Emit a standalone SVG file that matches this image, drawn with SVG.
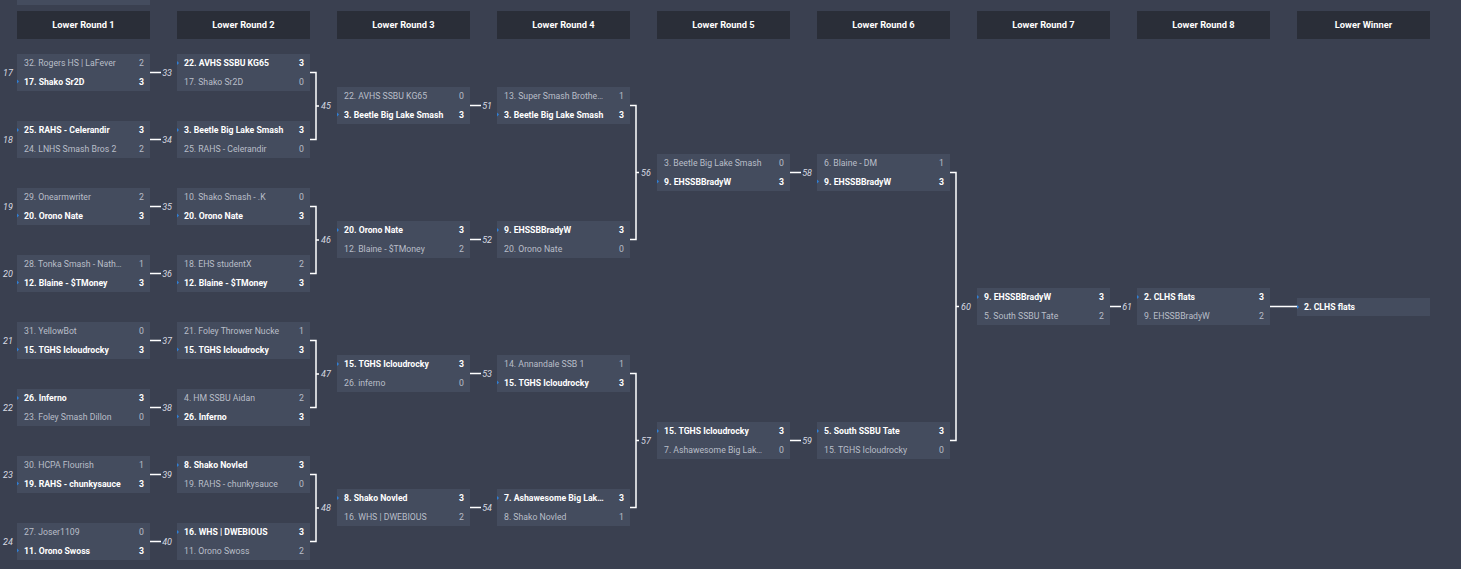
<svg xmlns="http://www.w3.org/2000/svg" width="1461" height="569" viewBox="0 0 1461 569">
<style>
.bg{fill:#3a4050}
.hdr{fill:#2a2e38}
.box{fill:#444c5e}
.ht{font-family:Roboto,"Liberation Sans",sans-serif;font-size:9.3px;font-weight:700;fill:#ffffff;text-anchor:middle}
.n{font-family:Roboto,"Liberation Sans",sans-serif;font-size:8.7px;fill:#b9bec8}
.w{font-family:Roboto,"Liberation Sans",sans-serif;font-size:8.7px;font-weight:700;fill:#ffffff}
.s{text-anchor:middle}
.lbl{font-family:Roboto,"Liberation Sans",sans-serif;font-size:9px;font-style:italic;fill:#d8dbe2}
.le{text-anchor:end}
.lm{text-anchor:middle}
.mk{fill:#2f7fd6}
.cn{fill:none;stroke:#ffffff;stroke-width:1.5}
</style>
<rect class="bg" x="0" y="0" width="1461" height="569"/>
<rect class="box" x="17" y="-10" width="133" height="15"/>
<g id="headers">
<rect class="hdr" x="17" y="11" width="133" height="28"/><text class="ht" x="83.5" y="28.3">Lower Round 1</text>
<rect class="hdr" x="177" y="11" width="133" height="28"/><text class="ht" x="243.5" y="28.3">Lower Round 2</text>
<rect class="hdr" x="337" y="11" width="133" height="28"/><text class="ht" x="403.5" y="28.3">Lower Round 3</text>
<rect class="hdr" x="497" y="11" width="133" height="28"/><text class="ht" x="563.5" y="28.3">Lower Round 4</text>
<rect class="hdr" x="657" y="11" width="133" height="28"/><text class="ht" x="723.5" y="28.3">Lower Round 5</text>
<rect class="hdr" x="817" y="11" width="133" height="28"/><text class="ht" x="883.5" y="28.3">Lower Round 6</text>
<rect class="hdr" x="977" y="11" width="133" height="28"/><text class="ht" x="1043.5" y="28.3">Lower Round 7</text>
<rect class="hdr" x="1137" y="11" width="133" height="28"/><text class="ht" x="1203.5" y="28.3">Lower Round 8</text>
<rect class="hdr" x="1297" y="11" width="133" height="28"/><text class="ht" x="1363.5" y="28.3">Lower Winner</text>
</g>
<g id="connectors">
<path class="cn" d="M150 72.5H161M150 139.5H161M150 206.5H161M150 273.5H161M150 340.5H161M150 407.5H161M150 474.5H161M150 541.5H161"/>
<path class="cn" d="M310 72.5H316V139.5H310M316 106H319M310 206.5H316V273.5H310M316 240H319M310 340.5H316V407.5H310M316 374H319M310 474.5H316V541.5H310M316 508H319"/>
<path class="cn" d="M470 105.5H481M470 239.5H481M470 373.5H481M470 507.5H481"/>
<path class="cn" d="M630 105.5H636V239.5H630M636 172.5H639M630 373.5H636V507.5H630M636 440.5H639"/>
<path class="cn" d="M790 172.5H801M790 440.5H801"/>
<path class="cn" d="M950 172.5H956V440.5H950M956 306.5H959"/>
<path class="cn" d="M1110 306.5H1121M1270 306.5H1297"/>
<text class="lbl le" x="172" y="75.5">33</text>
<text class="lbl le" x="172" y="142.5">34</text>
<text class="lbl le" x="172" y="209.5">35</text>
<text class="lbl le" x="172" y="276.5">36</text>
<text class="lbl le" x="172" y="343.5">37</text>
<text class="lbl le" x="172" y="410.5">38</text>
<text class="lbl le" x="172" y="477.5">39</text>
<text class="lbl le" x="172" y="544.5">40</text>
<text class="lbl" x="321" y="109">45</text>
<text class="lbl" x="321" y="243">46</text>
<text class="lbl" x="321" y="377">47</text>
<text class="lbl" x="321" y="511">48</text>
<text class="lbl le" x="492" y="108.5">51</text>
<text class="lbl le" x="492" y="242.5">52</text>
<text class="lbl le" x="492" y="376.5">53</text>
<text class="lbl le" x="492" y="510.5">54</text>
<text class="lbl" x="641" y="175.5">56</text>
<text class="lbl" x="641" y="443.5">57</text>
<text class="lbl le" x="812" y="175.5">58</text>
<text class="lbl le" x="812" y="443.5">59</text>
<text class="lbl" x="961" y="309.5">60</text>
<text class="lbl le" x="1132" y="309.5">61</text>
<text class="lbl lm" x="8" y="75.5">17</text>
<text class="lbl lm" x="8" y="142.5">18</text>
<text class="lbl lm" x="8" y="209.5">19</text>
<text class="lbl lm" x="8" y="276.5">20</text>
<text class="lbl lm" x="8" y="343.5">21</text>
<text class="lbl lm" x="8" y="410.5">22</text>
<text class="lbl lm" x="8" y="477.5">23</text>
<text class="lbl lm" x="8" y="544.5">24</text>
</g>
<!-- Round 1 -->
<g id="m17" transform="translate(17,54)"><rect class="box" width="133" height="37"/><text class="n" x="7" y="12.3">32. Rogers HS | LaFever</text><text class="n s" x="124.5" y="12.3">2</text><path class="mk" d="M0 25.5L2 27.5L0 29.5Z"/><text class="w" x="7" y="30.8">17. Shako Sr2D</text><text class="w s" x="124.5" y="30.8">3</text></g>
<g id="m18" transform="translate(17,121)"><rect class="box" width="133" height="37"/><path class="mk" d="M0 7L2 9L0 11Z"/><text class="w" x="7" y="12.3">25. RAHS - Celerandir</text><text class="w s" x="124.5" y="12.3">3</text><text class="n" x="7" y="30.8">24. LNHS Smash Bros 2</text><text class="n s" x="124.5" y="30.8">2</text></g>
<g id="m19" transform="translate(17,188)"><rect class="box" width="133" height="37"/><text class="n" x="7" y="12.3">29. Onearmwriter</text><text class="n s" x="124.5" y="12.3">2</text><path class="mk" d="M0 25.5L2 27.5L0 29.5Z"/><text class="w" x="7" y="30.8">20. Orono Nate</text><text class="w s" x="124.5" y="30.8">3</text></g>
<g id="m20" transform="translate(17,255)"><rect class="box" width="133" height="37"/><text class="n" x="7" y="12.3">28. Tonka Smash - Nath…</text><text class="n s" x="124.5" y="12.3">1</text><path class="mk" d="M0 25.5L2 27.5L0 29.5Z"/><text class="w" x="7" y="30.8">12. Blaine - $TMoney</text><text class="w s" x="124.5" y="30.8">3</text></g>
<g id="m21" transform="translate(17,322)"><rect class="box" width="133" height="37"/><text class="n" x="7" y="12.3">31. YellowBot</text><text class="n s" x="124.5" y="12.3">0</text><path class="mk" d="M0 25.5L2 27.5L0 29.5Z"/><text class="w" x="7" y="30.8">15. TGHS Icloudrocky</text><text class="w s" x="124.5" y="30.8">3</text></g>
<g id="m22" transform="translate(17,389)"><rect class="box" width="133" height="37"/><path class="mk" d="M0 7L2 9L0 11Z"/><text class="w" x="7" y="12.3">26. Inferno</text><text class="w s" x="124.5" y="12.3">3</text><text class="n" x="7" y="30.8">23. Foley Smash Dillon</text><text class="n s" x="124.5" y="30.8">0</text></g>
<g id="m23" transform="translate(17,456)"><rect class="box" width="133" height="37"/><text class="n" x="7" y="12.3">30. HCPA Flourish</text><text class="n s" x="124.5" y="12.3">1</text><path class="mk" d="M0 25.5L2 27.5L0 29.5Z"/><text class="w" x="7" y="30.8">19. RAHS - chunkysauce</text><text class="w s" x="124.5" y="30.8">3</text></g>
<g id="m24" transform="translate(17,523)"><rect class="box" width="133" height="37"/><text class="n" x="7" y="12.3">27. Joser1109</text><text class="n s" x="124.5" y="12.3">0</text><path class="mk" d="M0 25.5L2 27.5L0 29.5Z"/><text class="w" x="7" y="30.8">11. Orono Swoss</text><text class="w s" x="124.5" y="30.8">3</text></g>
<!-- Round 2 -->
<g id="m33" transform="translate(177,54)"><rect class="box" width="133" height="37"/><path class="mk" d="M0 7L2 9L0 11Z"/><text class="w" x="7" y="12.3">22. AVHS SSBU KG65</text><text class="w s" x="124.5" y="12.3">3</text><text class="n" x="7" y="30.8">17. Shako Sr2D</text><text class="n s" x="124.5" y="30.8">0</text></g>
<g id="m34" transform="translate(177,121)"><rect class="box" width="133" height="37"/><path class="mk" d="M0 7L2 9L0 11Z"/><text class="w" x="7" y="12.3">3. Beetle Big Lake Smash</text><text class="w s" x="124.5" y="12.3">3</text><text class="n" x="7" y="30.8">25. RAHS - Celerandir</text><text class="n s" x="124.5" y="30.8">0</text></g>
<g id="m35" transform="translate(177,188)"><rect class="box" width="133" height="37"/><text class="n" x="7" y="12.3">10. Shako Smash - .K</text><text class="n s" x="124.5" y="12.3">0</text><path class="mk" d="M0 25.5L2 27.5L0 29.5Z"/><text class="w" x="7" y="30.8">20. Orono Nate</text><text class="w s" x="124.5" y="30.8">3</text></g>
<g id="m36" transform="translate(177,255)"><rect class="box" width="133" height="37"/><text class="n" x="7" y="12.3">18. EHS studentX</text><text class="n s" x="124.5" y="12.3">2</text><path class="mk" d="M0 25.5L2 27.5L0 29.5Z"/><text class="w" x="7" y="30.8">12. Blaine - $TMoney</text><text class="w s" x="124.5" y="30.8">3</text></g>
<g id="m37" transform="translate(177,322)"><rect class="box" width="133" height="37"/><text class="n" x="7" y="12.3">21. Foley Thrower Nucke</text><text class="n s" x="124.5" y="12.3">1</text><path class="mk" d="M0 25.5L2 27.5L0 29.5Z"/><text class="w" x="7" y="30.8">15. TGHS Icloudrocky</text><text class="w s" x="124.5" y="30.8">3</text></g>
<g id="m38" transform="translate(177,389)"><rect class="box" width="133" height="37"/><text class="n" x="7" y="12.3">4. HM SSBU Aidan</text><text class="n s" x="124.5" y="12.3">2</text><path class="mk" d="M0 25.5L2 27.5L0 29.5Z"/><text class="w" x="7" y="30.8">26. Inferno</text><text class="w s" x="124.5" y="30.8">3</text></g>
<g id="m39" transform="translate(177,456)"><rect class="box" width="133" height="37"/><path class="mk" d="M0 7L2 9L0 11Z"/><text class="w" x="7" y="12.3">8. Shako Novled</text><text class="w s" x="124.5" y="12.3">3</text><text class="n" x="7" y="30.8">19. RAHS - chunkysauce</text><text class="n s" x="124.5" y="30.8">0</text></g>
<g id="m40" transform="translate(177,523)"><rect class="box" width="133" height="37"/><path class="mk" d="M0 7L2 9L0 11Z"/><text class="w" x="7" y="12.3">16. WHS | DWEBIOUS</text><text class="w s" x="124.5" y="12.3">3</text><text class="n" x="7" y="30.8">11. Orono Swoss</text><text class="n s" x="124.5" y="30.8">2</text></g>
<!-- Round 3 -->
<g id="m45" transform="translate(337,87)"><rect class="box" width="133" height="37"/><text class="n" x="7" y="12.3">22. AVHS SSBU KG65</text><text class="n s" x="124.5" y="12.3">0</text><path class="mk" d="M0 25.5L2 27.5L0 29.5Z"/><text class="w" x="7" y="30.8">3. Beetle Big Lake Smash</text><text class="w s" x="124.5" y="30.8">3</text></g>
<g id="m46" transform="translate(337,221)"><rect class="box" width="133" height="37"/><path class="mk" d="M0 7L2 9L0 11Z"/><text class="w" x="7" y="12.3">20. Orono Nate</text><text class="w s" x="124.5" y="12.3">3</text><text class="n" x="7" y="30.8">12. Blaine - $TMoney</text><text class="n s" x="124.5" y="30.8">2</text></g>
<g id="m47" transform="translate(337,355)"><rect class="box" width="133" height="37"/><path class="mk" d="M0 7L2 9L0 11Z"/><text class="w" x="7" y="12.3">15. TGHS Icloudrocky</text><text class="w s" x="124.5" y="12.3">3</text><text class="n" x="7" y="30.8">26. inferno</text><text class="n s" x="124.5" y="30.8">0</text></g>
<g id="m48" transform="translate(337,489)"><rect class="box" width="133" height="37"/><path class="mk" d="M0 7L2 9L0 11Z"/><text class="w" x="7" y="12.3">8. Shako Novled</text><text class="w s" x="124.5" y="12.3">3</text><text class="n" x="7" y="30.8">16. WHS | DWEBIOUS</text><text class="n s" x="124.5" y="30.8">2</text></g>
<!-- Round 4 -->
<g id="m51" transform="translate(497,87)"><rect class="box" width="133" height="37"/><text class="n" x="7" y="12.3">13. Super Smash Brothe…</text><text class="n s" x="124.5" y="12.3">1</text><path class="mk" d="M0 25.5L2 27.5L0 29.5Z"/><text class="w" x="7" y="30.8">3. Beetle Big Lake Smash</text><text class="w s" x="124.5" y="30.8">3</text></g>
<g id="m52" transform="translate(497,221)"><rect class="box" width="133" height="37"/><path class="mk" d="M0 7L2 9L0 11Z"/><text class="w" x="7" y="12.3">9. EHSSBBradyW</text><text class="w s" x="124.5" y="12.3">3</text><text class="n" x="7" y="30.8">20. Orono Nate</text><text class="n s" x="124.5" y="30.8">0</text></g>
<g id="m53" transform="translate(497,355)"><rect class="box" width="133" height="37"/><text class="n" x="7" y="12.3">14. Annandale SSB 1</text><text class="n s" x="124.5" y="12.3">1</text><path class="mk" d="M0 25.5L2 27.5L0 29.5Z"/><text class="w" x="7" y="30.8">15. TGHS Icloudrocky</text><text class="w s" x="124.5" y="30.8">3</text></g>
<g id="m54" transform="translate(497,489)"><rect class="box" width="133" height="37"/><path class="mk" d="M0 7L2 9L0 11Z"/><text class="w" x="7" y="12.3">7. Ashawesome Big Lak…</text><text class="w s" x="124.5" y="12.3">3</text><text class="n" x="7" y="30.8">8. Shako Novled</text><text class="n s" x="124.5" y="30.8">1</text></g>
<!-- Round 5 -->
<g id="m56" transform="translate(657,154)"><rect class="box" width="133" height="37"/><text class="n" x="7" y="12.3">3. Beetle Big Lake Smash</text><text class="n s" x="124.5" y="12.3">0</text><path class="mk" d="M0 25.5L2 27.5L0 29.5Z"/><text class="w" x="7" y="30.8">9. EHSSBBradyW</text><text class="w s" x="124.5" y="30.8">3</text></g>
<g id="m57" transform="translate(657,422)"><rect class="box" width="133" height="37"/><path class="mk" d="M0 7L2 9L0 11Z"/><text class="w" x="7" y="12.3">15. TGHS Icloudrocky</text><text class="w s" x="124.5" y="12.3">3</text><text class="n" x="7" y="30.8">7. Ashawesome Big Lak…</text><text class="n s" x="124.5" y="30.8">0</text></g>
<!-- Round 6 -->
<g id="m58" transform="translate(817,154)"><rect class="box" width="133" height="37"/><text class="n" x="7" y="12.3">6. Blaine - DM</text><text class="n s" x="124.5" y="12.3">1</text><path class="mk" d="M0 25.5L2 27.5L0 29.5Z"/><text class="w" x="7" y="30.8">9. EHSSBBradyW</text><text class="w s" x="124.5" y="30.8">3</text></g>
<g id="m59" transform="translate(817,422)"><rect class="box" width="133" height="37"/><path class="mk" d="M0 7L2 9L0 11Z"/><text class="w" x="7" y="12.3">5. South SSBU Tate</text><text class="w s" x="124.5" y="12.3">3</text><text class="n" x="7" y="30.8">15. TGHS Icloudrocky</text><text class="n s" x="124.5" y="30.8">0</text></g>
<!-- Round 7 -->
<g id="m60" transform="translate(977,288)"><rect class="box" width="133" height="37"/><path class="mk" d="M0 7L2 9L0 11Z"/><text class="w" x="7" y="12.3">9. EHSSBBradyW</text><text class="w s" x="124.5" y="12.3">3</text><text class="n" x="7" y="30.8">5. South SSBU Tate</text><text class="n s" x="124.5" y="30.8">2</text></g>
<!-- Round 8 -->
<g id="m61" transform="translate(1137,288)"><rect class="box" width="133" height="37"/><path class="mk" d="M0 7L2 9L0 11Z"/><text class="w" x="7" y="12.3">2. CLHS flats</text><text class="w s" x="124.5" y="12.3">3</text><text class="n" x="7" y="30.8">9. EHSSBBradyW</text><text class="n s" x="124.5" y="30.8">2</text></g>
<!-- Winner -->
<g id="winner" transform="translate(1297,298)"><rect class="box" width="133" height="18"/><path class="mk" d="M0 7L2 9L0 11Z"/><text class="w" x="7" y="12">2. CLHS flats</text></g>
</svg>
